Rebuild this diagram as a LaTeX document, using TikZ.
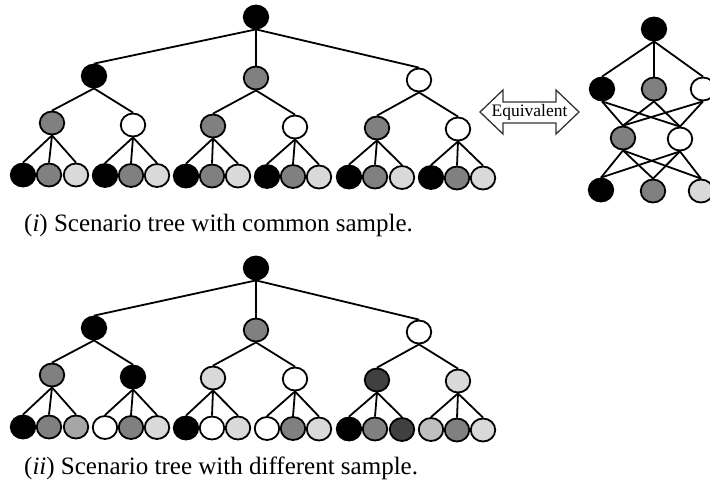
\documentclass[tikz,border=0pt]{standalone}
\usepackage{fontspec}
\setmainfont{Liberation Serif}
\usetikzlibrary{shapes.geometric}
\definecolor{cgrey}{HTML}{808080}
\definecolor{clight}{HTML}{D9D9D9}
\definecolor{cmid}{HTML}{A6A6A6}
\definecolor{cdark}{HTML}{404040}
\definecolor{csilver}{HTML}{BFBFBF}
\definecolor{arrowline}{HTML}{333333}
\tikzset{
  snode/.style={ellipse, draw=black, line width=1.8pt, minimum width=24.5pt, minimum height=23pt, inner sep=0pt},
  link/.style={line width=1.8pt},
  captext/.style={anchor=base west, inner sep=0pt, font=\fontsize{25}{30}\selectfont},
  eqtext/.style={inner sep=0pt, font=\fontsize{17.5}{21}\selectfont},
}
\begin{document}
\begin{tikzpicture}[x=1pt, y=-1pt]
\useasboundingbox (0,0) rectangle (710,488);

% ---------- tree (i): common sample ----------
\foreach \n/\x/\y/\c in {
  r/256/17/black,
  a1/94/76/black, a2/256/78/cgrey, a3/419/80/white,
  b1/52/123/cgrey, b2/133/125/white, b3/213/126/cgrey, b4/295/127/white, b5/377/128/cgrey, b6/458/129/white,
  c1/23/175/black, c2/49/175/cgrey, c3/76/175/clight,
  c4/105/175.5/black, c5/131/175.5/cgrey, c6/157/175.5/clight,
  c7/186/176/black, c8/212/176/cgrey, c9/238/176/clight,
  c10/267/176.5/black, c11/293/176.5/cgrey, c12/319/177/clight,
  c13/349/177/black, c14/375/177/cgrey, c15/402/177.5/clight,
  c16/431/177.5/black, c17/457/178/cgrey, c18/483/178/clight}
  \node[snode, fill=\c] (A\n) at (\x,\y) {};

% ---------- tree (ii): different sample ----------
\foreach \n/\x/\y/\c in {
  r/256/268/black,
  a1/94/328/black, a2/256/330/cgrey, a3/419/332/white,
  b1/52/375/cgrey, b2/133/377/black, b3/213/378/clight, b4/295/379/white, b5/377/380/cdark, b6/458/381/clight,
  c1/23/427/black, c2/49/427/cgrey, c3/76/427/cmid,
  c4/105/427.5/white, c5/131/427.5/cgrey, c6/157/427.5/clight,
  c7/186/428/black, c8/212/428/white, c9/238/428/clight,
  c10/267/428.5/white, c11/293/428.5/cgrey, c12/319/429/clight,
  c13/349/429/black, c14/375/429/cgrey, c15/402/429.5/cdark,
  c16/431/429.5/csilver, c17/457/430/cgrey, c18/483/430/clight}
  \node[snode, fill=\c] (B\n) at (\x,\y) {};

% tree edges, identical for both trees
\foreach \t in {A,B}{
  \foreach \p/\q in {r/a1, r/a2, r/a3,
      a1/b1, a1/b2, a2/b3, a2/b4, a3/b5, a3/b6,
      b1/c1, b1/c2, b1/c3, b2/c4, b2/c5, b2/c6,
      b3/c7, b3/c8, b3/c9, b4/c10, b4/c11, b4/c12,
      b5/c13, b5/c14, b5/c15, b6/c16, b6/c17, b6/c18}
    \draw[link] (\t\p.south) -- (\t\q.north);
}

% ---------- recombining lattice ----------
\foreach \n/\x/\y/\c in {
  n0/654/29/black,
  m1/602/89/black, m2/654/89/cgrey, m3/703/89/white,
  k1/623/138/cgrey, k2/680/139/white,
  l1/601/190/black, l2/653/191/cgrey, l3/701/191/clight}
  \node[snode, fill=\c] (L\n) at (\x,\y) {};
\foreach \p/\q in {n0/m1, n0/m2, n0/m3,
    m1/k1, m1/k2, m2/k1, m2/k2, m3/k1, m3/k2,
    k1/l1, k1/l2, k1/l3, k2/l1, k2/l2, k2/l3}
  \draw[link] (L\p.south) -- (L\q.north);

% ---------- double arrow ----------
\draw[line width=1.3pt, draw=arrowline, fill=white, line join=miter]
  (480,112) -- (503,90) -- (503,102) -- (556,102) -- (556,90) -- (579,112)
  -- (556,134) -- (556,123) -- (503,123) -- (503,134) -- cycle;
\node[eqtext] (eq) at (529.5,112.5) {Equivalent};

% ---------- captions ----------
\node[captext] (capA) at (24,231) {(\textit{i}) Scenario tree with common sample.};
\node[captext] (capB) at (24,474) {(\textit{ii}) Scenario tree with different sample.};
\end{tikzpicture}
\end{document}
